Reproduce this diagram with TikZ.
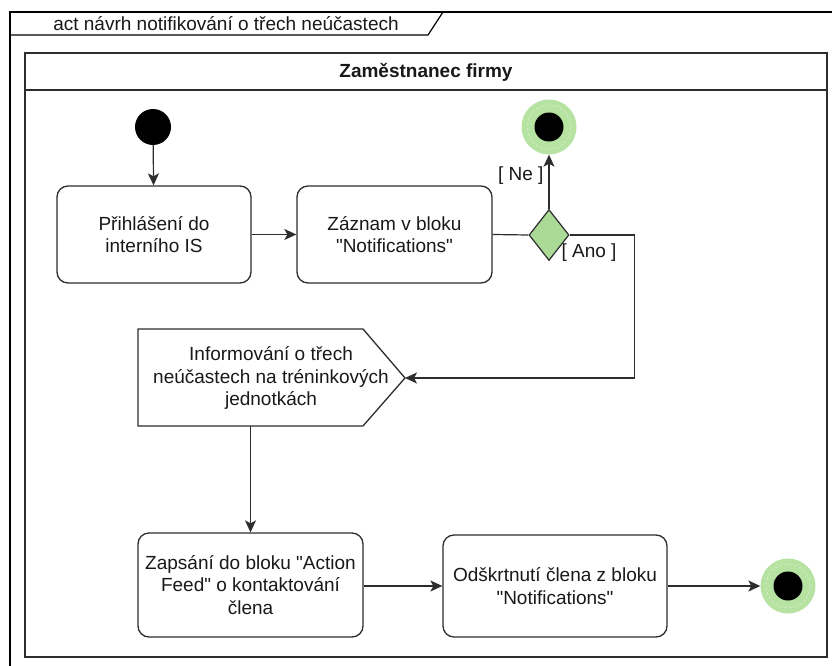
\documentclass[tikz,border=0pt]{standalone}
\usepackage{fontspec}
\setmainfont{Liberation Sans}[Ligatures=TeXOff]
\usetikzlibrary{arrows.meta,shapes.geometric}
\definecolor{decgreen}{RGB}{170,218,150}
\definecolor{endgreen}{RGB}{182,226,162}
\definecolor{linegray}{RGB}{45,45,45}
\begin{document}
\begin{tikzpicture}[x=1pt,y=-1pt,
  every node/.style={font=\fontsize{19}{22.5}\selectfont, text=black!90},
  action/.style={draw=linegray, line width=1.3pt, rounded corners=11pt,
    align=center, fill=white, inner sep=0pt},
  startnode/.style={circle, fill=black, inner sep=0pt, minimum size=36pt},
  endring/.style={circle, fill=endgreen, inner sep=0pt, minimum size=55pt},
  enddot/.style={circle, fill=black, inner sep=0pt, minimum size=29pt},
  decision/.style={diamond, draw=linegray, line width=1.2pt, fill=decgreen,
    inner sep=0pt, minimum width=40pt, minimum height=51pt},
  flow/.style={draw=linegray, line width=1.2pt,
    -{Stealth[length=12pt,width=11pt,inset=3pt]}},
  plain/.style={draw=linegray, line width=1.2pt},
  guard/.style={font=\fontsize{19}{22.5}\selectfont}
]
\useasboundingbox (0,0) rectangle (832,666);
\fill[white] (0,0) rectangle (832,666);

% activity frame with its name tab
\draw[line width=1.2pt] (10,666) -- (10,12) -- (832,12);
\draw[line width=1.2pt] (10,35) -- (428,35) -- (443,12);
\node (frametitle) at (226,23.5) {act návrh notifikování o třech neúčastech};

% swimlane
\draw[draw=linegray, line width=1.6pt] (25,53) rectangle (827,657);
\draw[draw=linegray, line width=1.6pt] (25,90) -- (827,90);
\node (lanetitle) at (426,72) {\bfseries Zaměstnanec firmy};

% start
\node[startnode] (start) at (153,127) {};

% actions
\node[action, minimum width=194pt, minimum height=97pt] (login) at (154,234.5)
  {Přihlášení do\\interního IS};
\node[action, minimum width=195pt, minimum height=97pt] (record) at (394.5,234.5)
  {Záznam v bloku\\"Notifications"};

% decision
\node[decision] (dec) at (549,235) {};

% upper end
\node[endring] (endtop) at (549,127) {};
\node[enddot] (endtopdot) at (549,127) {};
\draw[white, line width=0.5pt, dash pattern=on 3pt off 2pt, opacity=.5]
  (endtop.center) circle[radius=22pt];

% send signal action
\draw[draw=linegray, line width=1.3pt, fill=white]
  (138,329) -- (363,329) -- (405,378) -- (363,426) -- (138,426) -- cycle;
\node[align=center] (inform) at (271,378)
  {Informování o třech\\neúčastech na tréninkových\\jednotkách};
\coordinate (informtip) at (405,378);
\coordinate (informbottom) at (250.5,426);

% lower actions
\node[action, minimum width=225pt, minimum height=104pt] (feed) at (250.5,585)
  {Zapsání do bloku "Action\\Feed" o kontaktování\\člena};
\node[action, minimum width=224pt, minimum height=102pt] (tick) at (555,586)
  {Odškrtnutí člena z bloku\\"Notifications"};

% lower end
\node[endring] (endbottom) at (788,586) {};
\node[enddot] (endbottomdot) at (788,586) {};
\draw[white, line width=0.5pt, dash pattern=on 3pt off 2pt, opacity=.5]
  (endbottom.center) circle[radius=22pt];

% flows
\draw[flow] (start) -- (login);
\draw[flow] (login) -- (record);
\draw[plain] (record.east) -- (dec.west);
\draw[flow] (dec.north) -- (endtop.south);
\draw[flow] (dec.east) -- ++(65,0) |- (informtip);
\draw[flow] (informbottom) -- (feed.north);
\draw[flow] (feed.east |- tick.west) -- (tick.west);
\draw[flow] (tick.east) -- (endbottom.west);

% guards
\node[guard, anchor=east] (guardno) at (547,176) {[ Ne ]};
\node[guard, anchor=west] (guardyes) at (558,253) {[ Ano ]};
\end{tikzpicture}
\end{document}
